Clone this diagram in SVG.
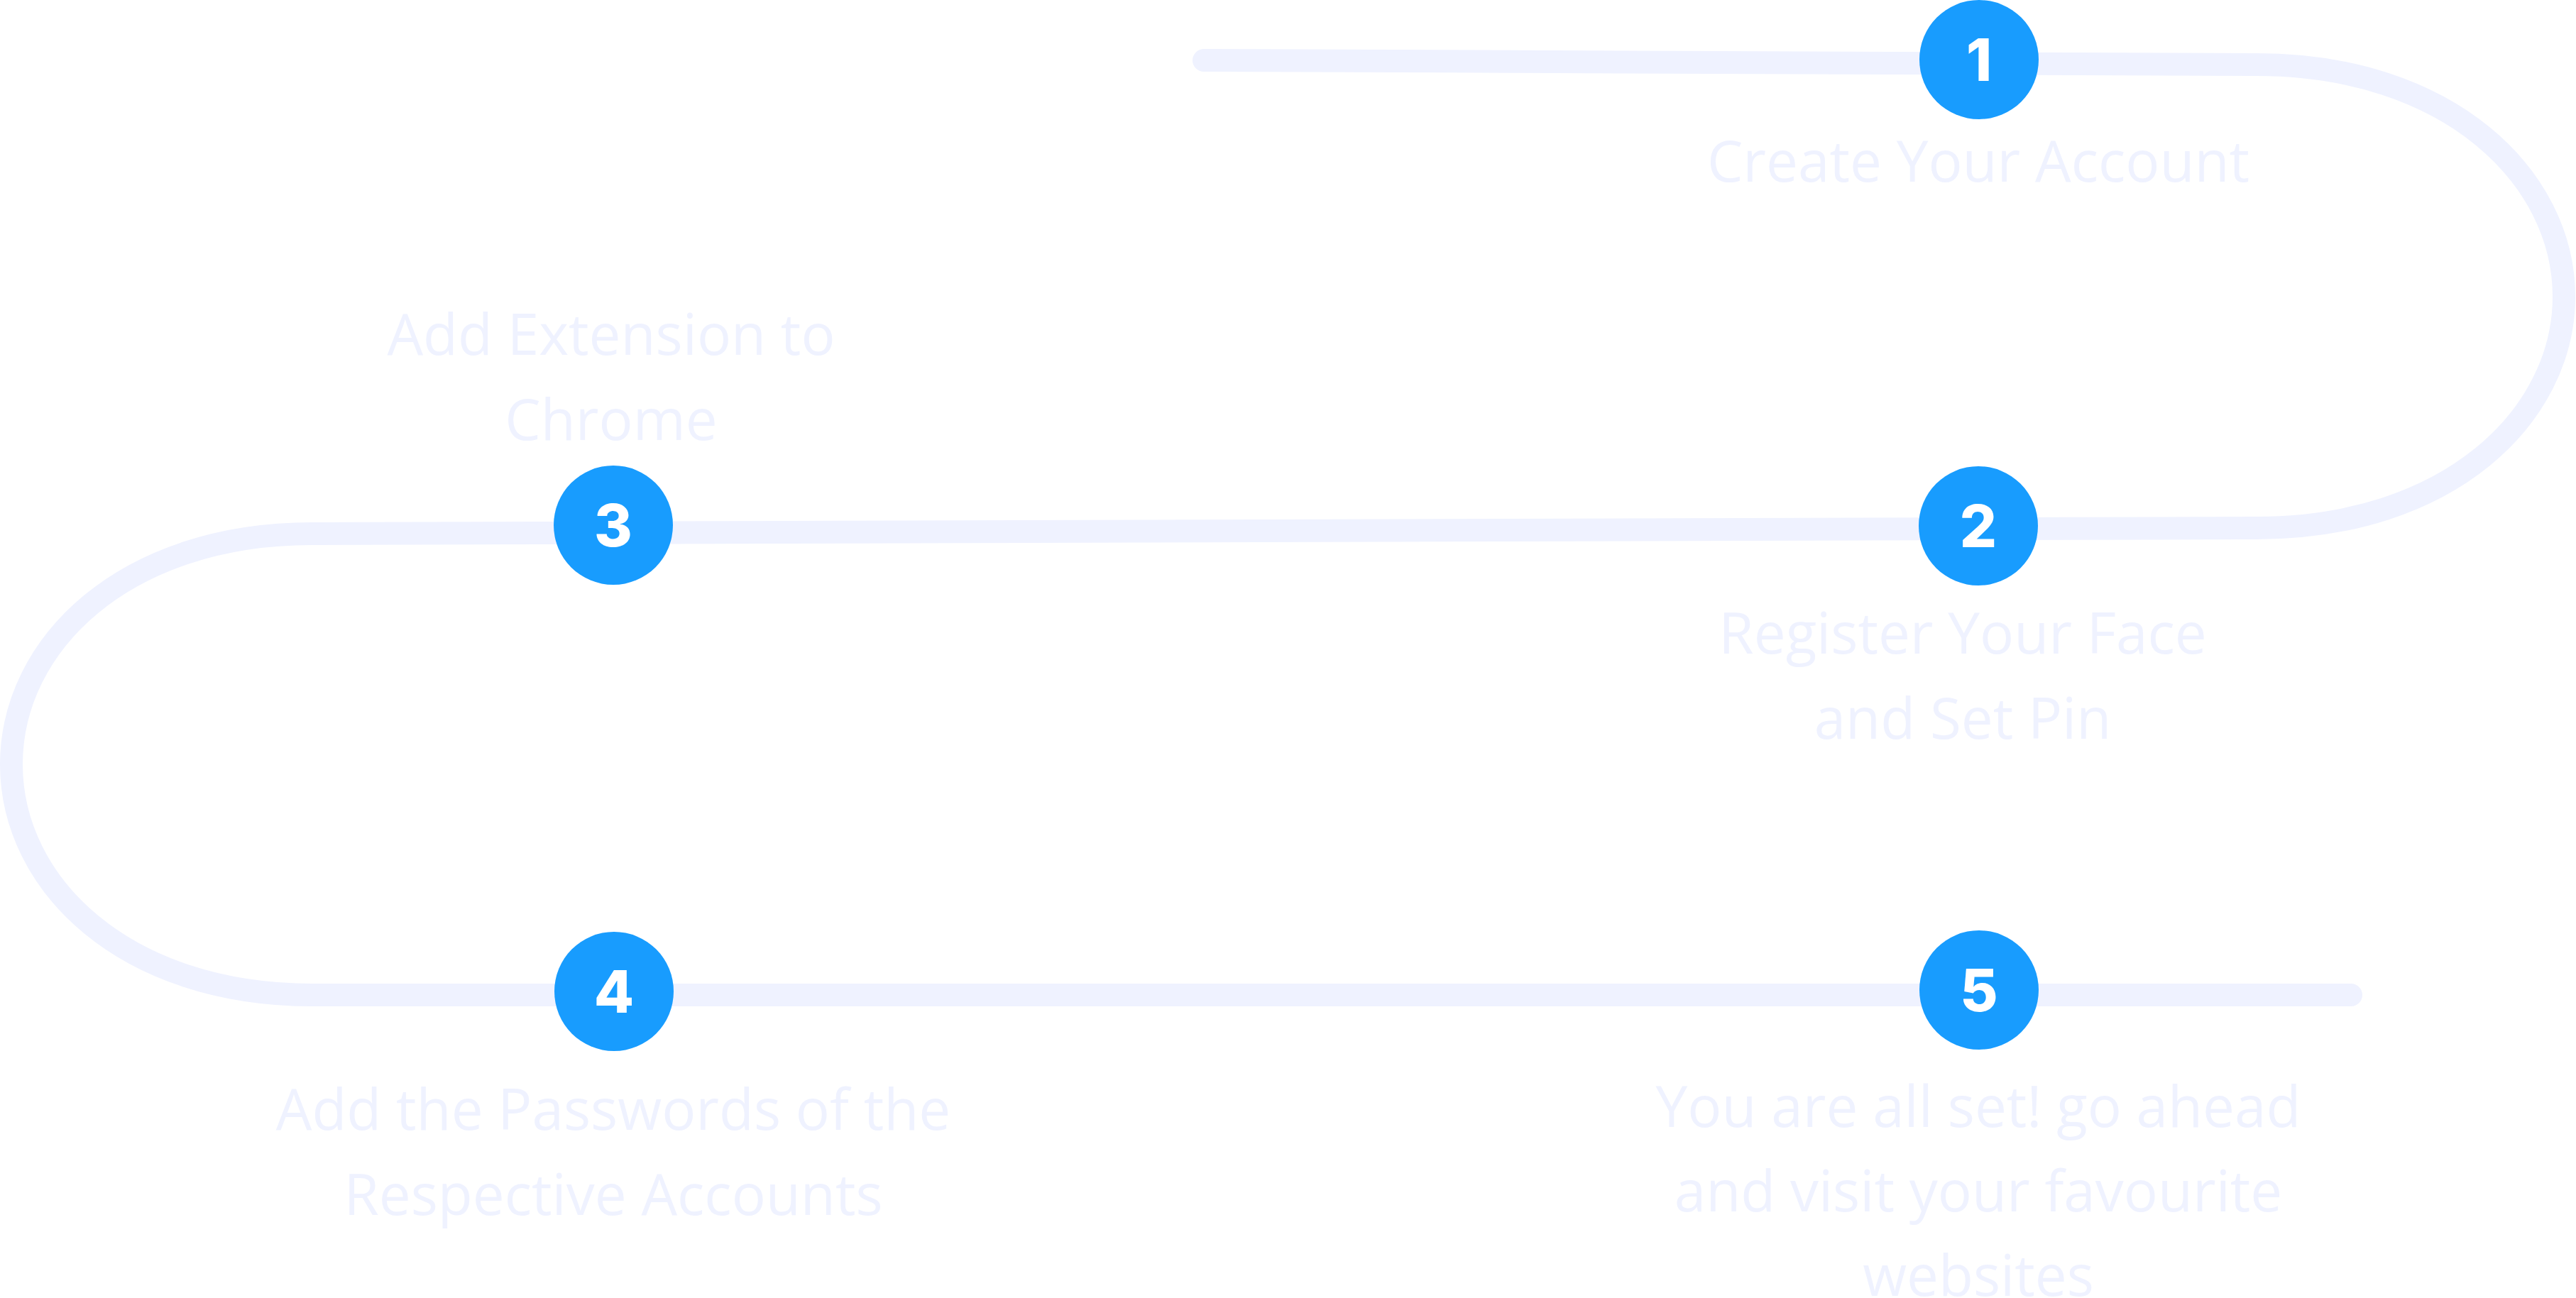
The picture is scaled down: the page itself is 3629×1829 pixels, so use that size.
<svg xmlns="http://www.w3.org/2000/svg" width="3629" height="1829" viewBox="0 0 3629 1829">
<style>
.track{fill:none;stroke:#EFF2FF;stroke-width:32;stroke-linecap:round;stroke-linejoin:round}
.dot{fill:#189CFE}
.num{font-family:Inter,"Liberation Sans",sans-serif;font-weight:800;font-size:82px;fill:#FFFFFF;text-anchor:middle}
.lbl{font-family:"Open Sans","Liberation Sans",sans-serif;font-weight:400;font-size:80px;fill:#EFF2FF;text-anchor:middle}
</style>
<rect width="3629" height="1829" fill="#FFFFFF"/>
<g id="connectors">
<path class="track" d="M 1696 85 L 3179 91 C 3450 91 3612 250 3612 418 C 3612 586 3450 744 3179 744 L 440 752 C 175 752 16 908 16 1077 C 16 1246 175 1402 440 1402 L 3312 1402"/>
</g>
<g id="step1">
<circle class="dot" cx="2788" cy="84" r="84"/>
<text class="num" x="2788" y="114">1</text>
<text class="lbl" x="2787" y="256">Create Your Account</text>
</g>
<g id="step2">
<circle class="dot" cx="2787" cy="741" r="84"/>
<text class="num" x="2787" y="771">2</text>
<text class="lbl" x="2765" y="921">Register Your Face</text>
<text class="lbl" x="2765" y="1041">and Set Pin</text>
</g>
<g id="step3">
<circle class="dot" cx="864" cy="740" r="84"/>
<text class="num" x="864" y="770">3</text>
<text class="lbl" x="861" y="500">Add Extension to</text>
<text class="lbl" x="861" y="620">Chrome</text>
</g>
<g id="step4">
<circle class="dot" cx="865" cy="1397" r="84"/>
<text class="num" x="865" y="1427">4</text>
<text class="lbl" x="864" y="1592">Add the Passwords of the</text>
<text class="lbl" x="864" y="1712">Respective Accounts</text>
</g>
<g id="step5">
<circle class="dot" cx="2788" cy="1395" r="84"/>
<text class="num" x="2788" y="1425">5</text>
<text class="lbl" x="2787" y="1588">You are all set! go ahead</text>
<text class="lbl" x="2787" y="1707">and visit your favourite</text>
<text class="lbl" x="2787" y="1826">websites</text>
</g>
</svg>
